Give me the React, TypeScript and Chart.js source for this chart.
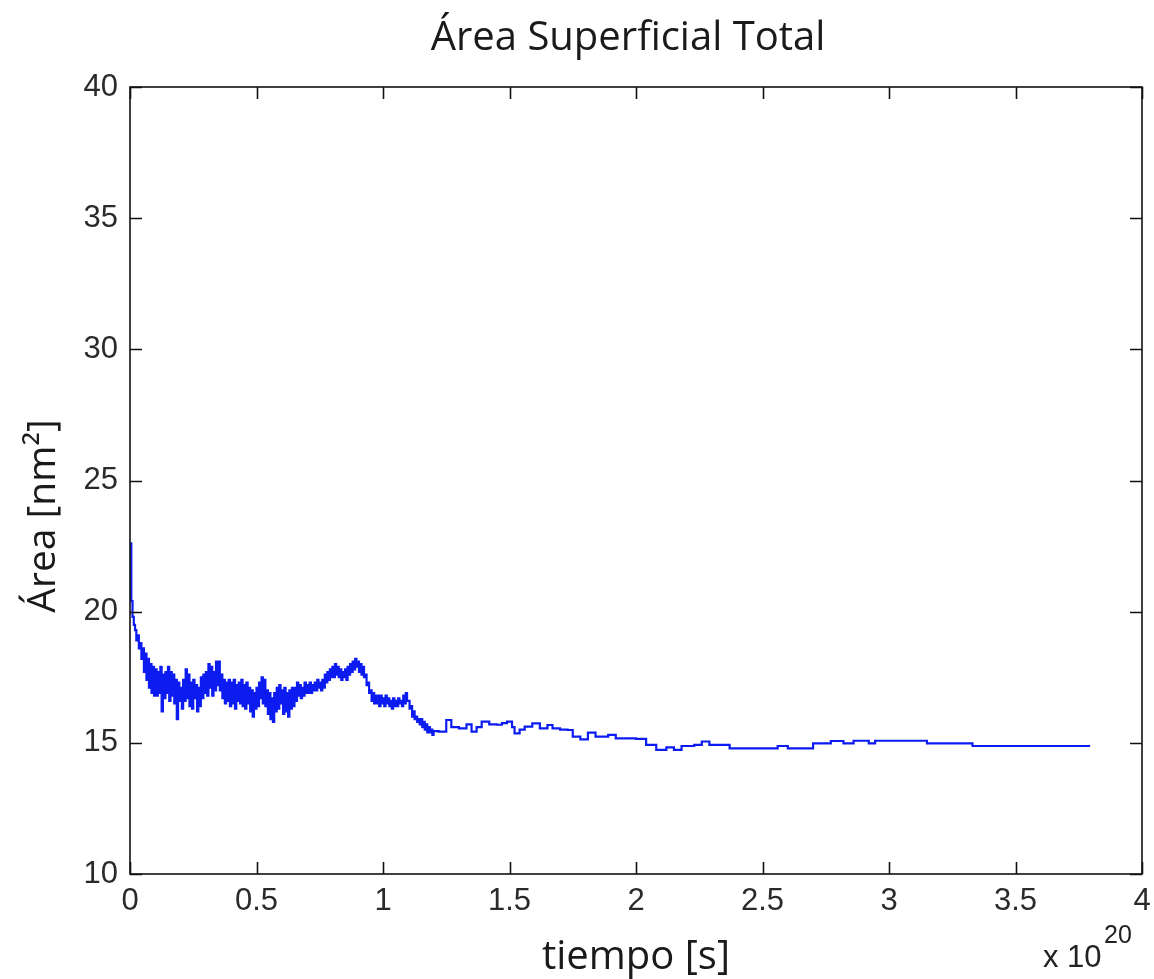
import React, { useEffect, useRef } from "react";
import { Chart, registerables } from "chart.js";

Chart.register(...registerables);

const chartTitle = "Área Superficial Total";
const xAxisTitle = "tiempo [s]";
const yAxisTitle = "Área [nm²]";
const xMultiplierBase = "x 10";
const xMultiplierExp = "20";

const xTicks = [0, 0.5, 1, 1.5, 2, 2.5, 3, 3.5, 4];
const yTicks = [10, 15, 20, 25, 30, 35, 40];

// Early, densely sampled part: one sample every 0.005 (x 1e20 s), starting at t = 0
const denseStart = 0;
const denseStep = 0.005;
const denseArea = [
  22.6, 20.4, 19.8, 19.5, 19.3, 18.9, 19.1, 18.6, 18.8, 18.2,
  18.6, 17.7, 18.4, 17.4, 18.2, 17.1, 18.0, 16.9, 17.9, 16.8,
  17.8, 16.8, 17.7, 16.9, 17.9, 16.2, 17.6, 16.7, 17.7, 16.9,
  17.9, 16.6, 17.7, 16.8, 17.6, 16.5, 17.4, 15.9, 17.3, 16.6,
  17.1, 16.3, 17.4, 16.6, 17.8, 16.7, 17.6, 16.4, 17.3, 16.3,
  17.4, 16.7, 17.2, 16.2, 17.1, 16.4, 17.5, 16.7, 17.6, 16.9,
  17.7, 16.8, 18.0, 17.1, 17.9, 16.8, 17.7, 17.0, 18.1, 17.2,
  18.1, 17.0, 17.6, 16.7, 17.4, 16.5, 17.3, 16.6, 17.4, 16.4,
  17.3, 16.5, 17.4, 16.3, 17.2, 16.6, 17.3, 16.5, 17.4, 16.4,
  17.2, 16.3, 17.3, 16.5, 17.1, 16.2, 17.0, 16.0, 16.9, 16.3,
  17.1, 16.4, 17.3, 16.7, 17.5, 16.5, 17.4, 16.4, 17.0, 16.1,
  16.9, 15.9, 16.7, 15.8, 16.9, 16.2, 17.1, 16.3, 17.2, 16.5,
  17.0, 16.1, 17.1, 16.2, 16.9, 16.0, 17.0, 16.3, 17.1, 16.4,
  17.1, 16.6, 17.3, 16.8, 17.2, 16.7, 17.1, 16.8, 17.3, 16.9,
  17.2, 16.9, 17.3, 16.9, 17.2, 17.0, 17.3, 17.0, 17.4, 17.1,
  17.3, 17.0, 17.4, 17.1, 17.6, 17.3, 17.7, 17.4, 17.8, 17.5,
  17.9, 17.5, 18.0, 17.6, 17.9, 17.5, 17.8, 17.4, 17.7, 17.5,
  17.8, 17.4, 17.9, 17.6, 18.0, 17.7, 18.1, 17.8, 18.2, 17.9,
  18.1, 17.7, 18.0, 17.6, 17.9, 17.5, 17.6, 17.2, 17.3, 16.9,
  17.0, 16.6, 16.9, 16.5, 16.8, 16.5, 16.8, 16.4, 16.8, 16.5,
  16.7, 16.4, 16.8, 16.5, 16.7, 16.4, 16.6, 16.3, 16.7, 16.4,
  16.6, 16.4, 16.7, 16.5, 16.6, 16.4, 16.8, 16.5, 16.9, 16.6,
  16.6, 16.3, 16.4, 16.0, 16.2, 15.9, 16.0, 15.8, 15.9, 15.7,
  15.9, 15.6, 15.8, 15.5, 15.7, 15.4, 15.6, 15.4, 15.5, 15.3,
];

// Later, sparser part
const tailTiempo = [
  1.2, 1.22, 1.25, 1.27, 1.3, 1.33, 1.35, 1.37, 1.39, 1.42,
  1.45, 1.47, 1.49, 1.51, 1.52, 1.54, 1.56, 1.59, 1.62, 1.65,
  1.67, 1.7, 1.73, 1.75, 1.78, 1.81, 1.84, 1.89, 1.92, 2.0,
  2.04, 2.08, 2.12, 2.15, 2.18, 2.23, 2.26, 2.29, 2.33, 2.37,
  2.49, 2.56, 2.6, 2.65, 2.7, 2.77, 2.82, 2.86, 2.92, 2.945,
  3.15, 3.33, 3.795,
];
const tailArea = [
  15.45, 15.43, 15.87, 15.6, 15.55, 15.7, 15.43, 15.6, 15.81, 15.7,
  15.69, 15.75, 15.81, 15.6, 15.36, 15.5, 15.62, 15.74, 15.55, 15.68,
  15.55, 15.5, 15.49, 15.24, 15.13, 15.39, 15.24, 15.3, 15.17, 15.15,
  14.92, 14.73, 14.83, 14.73, 14.88, 14.92, 15.05, 14.92, 14.92, 14.79,
  14.79, 14.88, 14.79, 14.79, 14.98, 15.07, 14.98, 15.08, 14.98, 15.08,
  14.98, 14.88, 14.88,
];

const textFont = "'Open Sans', 'Noto Sans', sans-serif";
const tickFont = "'Liberation Sans', Arial, sans-serif";

const framePlugin = {
  id: "matlabFrame",
  afterDatasetsDraw(chart: any) {
    const { ctx, chartArea: a, scales } = chart;
    ctx.save();
    ctx.strokeStyle = "#111";
    ctx.lineWidth = 1.6;
    ctx.strokeRect(a.left, a.top, a.right - a.left, a.bottom - a.top);
    const L = 12;
    ctx.beginPath();
    xTicks.forEach((v) => {
      const px = Math.round(scales.x.getPixelForValue(v)) + 0.5;
      ctx.moveTo(px, a.bottom);
      ctx.lineTo(px, a.bottom - L);
      ctx.moveTo(px, a.top);
      ctx.lineTo(px, a.top + L);
    });
    yTicks.forEach((v) => {
      const py = Math.round(scales.y.getPixelForValue(v)) + 0.5;
      ctx.moveTo(a.left, py);
      ctx.lineTo(a.left + L, py);
      ctx.moveTo(a.right, py);
      ctx.lineTo(a.right - L, py);
    });
    ctx.stroke();

    // chart title
    ctx.fillStyle = "#1a1a1a";
    ctx.font = `40px ${textFont}`;
    ctx.textAlign = "center";
    ctx.textBaseline = "alphabetic";
    ctx.fillText(chartTitle, 628, 50);

    // y axis title (rotated)
    ctx.save();
    ctx.translate(55, 516);
    ctx.rotate(-Math.PI / 2);
    ctx.font = `39px ${textFont}`;
    ctx.textAlign = "center";
    ctx.fillText(yAxisTitle, 0, 0);
    ctx.restore();

    // x multiplier
    ctx.fillStyle = "#222";
    ctx.textAlign = "left";
    ctx.font = `31px ${tickFont}`;
    ctx.fillText(xMultiplierBase, 1043, 967);
    ctx.font = `25px ${tickFont}`;
    ctx.fillText(xMultiplierExp, 1104, 943);
    ctx.restore();
  },
};

export default function App() {
  const ref = useRef<HTMLCanvasElement | null>(null);

  useEffect(() => {
    if (!ref.current) return;
    const densePts = denseArea.map((v, i) => ({ x: denseStart + i * denseStep, y: v }));
    const tailPts = tailTiempo.map((t, i) => ({ x: t, y: tailArea[i] }));
    const chart = new Chart(ref.current, {
      type: "line",
      data: {
        datasets: [
          {
            data: [...densePts, ...tailPts],
            borderColor: "#0c1cf0",
            borderWidth: 2.2,
            pointRadius: 0,
            stepped: true,
            fill: false,
          },
        ],
      },
      options: {
        responsive: false,
        animation: false,
        layout: { padding: { left: 0, right: 12, top: 87, bottom: 0 } },
        plugins: {
          legend: { display: false },
          tooltip: { enabled: false },
          title: { display: false },
        },
        scales: {
          x: {
            type: "linear",
            min: 0,
            max: 4,
            afterBuildTicks: (s: any) => {
              s.ticks = xTicks.map((v) => ({ value: v }));
            },
            afterFit: (s: any) => {
              s.height = 105;
              s.paddingLeft = 0;
              s.paddingRight = 0;
            },
            grid: { display: false, drawTicks: false },
            border: { display: false },
            ticks: {
              color: "#2a2a2a",
              font: { family: tickFont, size: 31 },
              padding: 9,
              maxRotation: 0,
              autoSkip: false,
              callback: (v: any) => String(v),
            },
            title: {
              display: true,
              text: xAxisTitle,
              color: "#1a1a1a",
              font: { family: textFont, size: 40, lineHeight: 1.2 },
              padding: { top: 0, bottom: -3 },
            },
          },
          y: {
            type: "linear",
            min: 10,
            max: 40,
            afterBuildTicks: (s: any) => {
              s.ticks = yTicks.map((v) => ({ value: v }));
            },
            afterFit: (s: any) => {
              s.width = 130;
              s.paddingTop = 0;
              s.paddingBottom = 0;
            },
            grid: { display: false, drawTicks: false },
            border: { display: false },
            ticks: {
              color: "#2a2a2a",
              font: { family: tickFont, size: 31 },
              padding: 12,
              autoSkip: false,
              callback: (v: any) => String(v),
            },
          },
        },
      },
      plugins: [framePlugin],
    });
    return () => chart.destroy();
  }, []);

  return (
    <div style={{ position: "absolute", left: 0, top: 0, width: 1154, height: 979, background: "#fff" }}>
      <canvas ref={ref} width={1154} height={979} style={{ width: 1154, height: 979, display: "block" }} />
    </div>
  );
}
